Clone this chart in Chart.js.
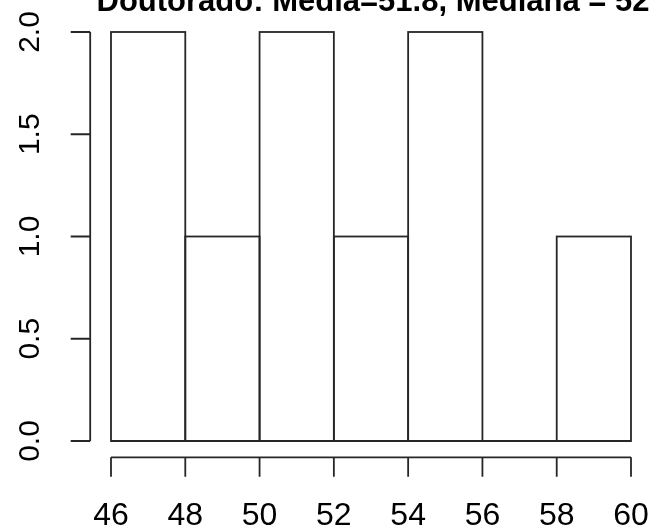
<!DOCTYPE html>
<html><head><meta charset="utf-8">
<script src="https://cdn.jsdelivr.net/npm/chart.js@4/dist/chart.umd.min.js"></script>
<style>html,body{margin:0;padding:0;background:#fff;overflow:hidden;}#wrap{width:654px;height:532px;}</style>
</head><body><div id="wrap"><canvas id="c" width="654" height="532"></canvas></div>
<script>
const titleText = 'Doutorado: Média=51.8, Mediana = 52';
const binEdges = [46, 48, 50, 52, 54, 56, 58, 60];
const counts = [2, 1, 2, 1, 2, 0, 1];
const xTicks = [46, 48, 50, 52, 54, 56, 58, 60];
const yTicks = [0, 0.5, 1, 1.5, 2];

const mids = counts.map((c, i) => (binEdges[i] + binEdges[i + 1]) / 2);
const FONT = "'Liberation Sans', Arial, sans-serif";
const LINE = '#262626';

const noPad = s => { s.paddingTop = 0; s.paddingBottom = 0; s.paddingLeft = 0; s.paddingRight = 0; };

const rAxes = {
  id: 'rAxes',
  afterDatasetsDraw(chart) {
    const { ctx, scales: { x, y } } = chart;
    ctx.save();
    ctx.strokeStyle = LINE;
    ctx.lineWidth = 1.8;
    // bar outlines
    const meta = chart.getDatasetMeta(0);
    meta.data.forEach(el => {
      const p = el.getProps(['x', 'y', 'base', 'width'], true);
      ctx.strokeRect(p.x - p.width / 2, p.y, p.width, p.base - p.y);
    });
    // baseline (zero-height bins)
    ctx.beginPath();
    ctx.moveTo(x.getPixelForValue(binEdges[0]), y.getPixelForValue(0));
    ctx.lineTo(x.getPixelForValue(binEdges[binEdges.length - 1]), y.getPixelForValue(0));
    ctx.stroke();
    // R-style axes at the 4% extended plot region
    const xEdge = y.getPixelForValue(y.min - 0.04 * (y.max - y.min));
    const yEdge = x.getPixelForValue(x.min - 0.04 * (x.max - x.min));
    const tl = 19.5;
    ctx.beginPath();
    ctx.moveTo(x.getPixelForValue(xTicks[0]), xEdge);
    ctx.lineTo(x.getPixelForValue(xTicks[xTicks.length - 1]), xEdge);
    xTicks.forEach(v => {
      const px = x.getPixelForValue(v);
      ctx.moveTo(px, xEdge);
      ctx.lineTo(px, xEdge + tl);
    });
    ctx.moveTo(yEdge, y.getPixelForValue(yTicks[0]));
    ctx.lineTo(yEdge, y.getPixelForValue(yTicks[yTicks.length - 1]));
    yTicks.forEach(v => {
      const py = y.getPixelForValue(v);
      ctx.moveTo(yEdge, py);
      ctx.lineTo(yEdge - tl, py);
    });
    ctx.stroke();
    // title
    ctx.fillStyle = '#000';
    ctx.font = "bold 31px " + FONT;
    ctx.textAlign = 'center';
    ctx.textBaseline = 'alphabetic';
    ctx.fillText(titleText, (chart.chartArea.left + chart.chartArea.right) / 2 + 2, 11);
    ctx.restore();
  }
};

new Chart(document.getElementById('c'), {
  type: 'bar',
  data: {
    datasets: [{
      data: mids.map((m, i) => ({ x: m, y: counts[i] })),
      backgroundColor: '#ffffff',
      borderWidth: 0,
      barPercentage: 1,
      categoryPercentage: 1
    }]
  },
  options: {
    responsive: false,
    animation: false,
    devicePixelRatio: 1,
    layout: { padding: { left: 0, right: 23, top: 32, bottom: 0 } },
    plugins: { legend: { display: false }, tooltip: { enabled: false }, title: { display: false } },
    scales: {
      x: {
        type: 'linear', min: 46, max: 60, offset: false,
        afterBuildTicks: s => { s.ticks = xTicks.map(v => ({ value: v })); },
        afterFit: s => { s.height = 91; noPad(s); },
        grid: { display: false, drawTicks: false },
        border: { display: false },
        ticks: { autoSkip: false, maxRotation: 0, minRotation: 0, padding: 56, color: '#000',
          font: { family: FONT, size: 32 }, callback: v => String(v) }
      },
      y: {
        type: 'linear', min: 0, max: 2,
        afterBuildTicks: s => { s.ticks = yTicks.map(v => ({ value: v })); },
        afterFit: s => { s.width = 111; noPad(s); },
        grid: { display: false, drawTicks: false },
        border: { display: false },
        ticks: { autoSkip: false, minRotation: 90, maxRotation: 90, crossAlign: 'center', padding: 59,
          color: '#000', font: { family: FONT, size: 30 }, callback: v => Number(v).toFixed(1) }
      }
    }
  },
  plugins: [rAxes]
});
</script>
</body></html>
